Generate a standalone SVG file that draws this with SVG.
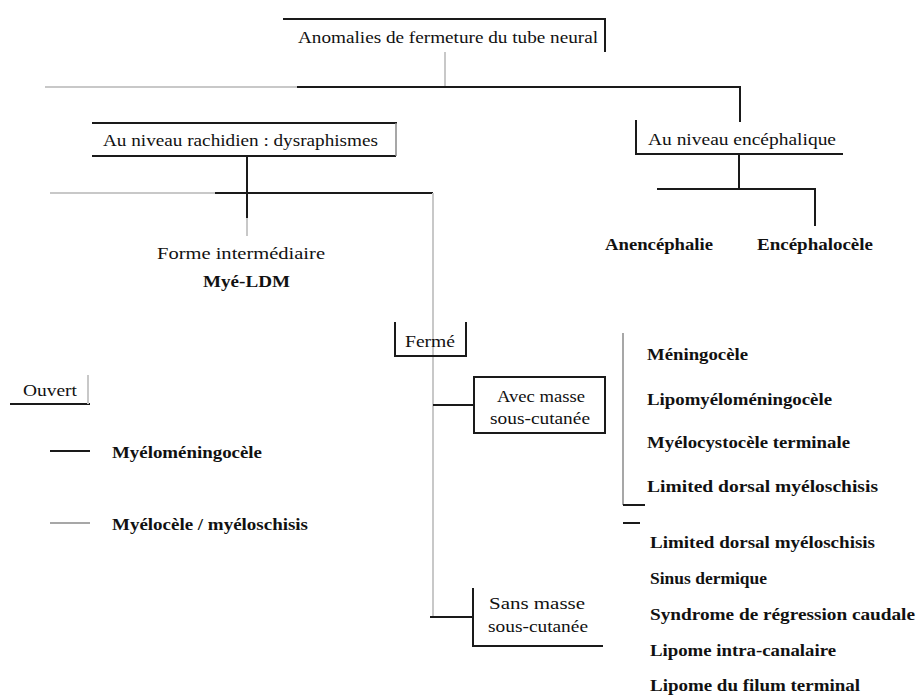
<svg xmlns="http://www.w3.org/2000/svg" width="918" height="699" viewBox="0 0 918 699">
  <style>
    text { font-family: "Liberation Serif", "Times New Roman", serif; fill: #111111; }
    .t { font-size: 16px; }
    .b { font-size: 16px; font-weight: bold; }
    .k { stroke: #1a1a1a; stroke-width: 2; fill: none; }
    .g { stroke: #c8c8c8; stroke-width: 2; fill: none; }
    .e { stroke: #8a8a8a; stroke-width: 1.5; fill: none; }
  </style>
  <rect width="918" height="699" fill="#ffffff"/>

  <!-- connectors -->
  <g id="connectors">
    <line class="g" x1="445" y1="52" x2="445" y2="87"/>
    <line class="g" x1="45" y1="87" x2="297" y2="87"/>
    <polyline class="k" points="297,87 740,87 740,122"/>
    <line class="k" x1="739" y1="154" x2="739" y2="189"/>
    <polyline class="k" points="657,189 815,189 815,226"/>
    <line class="k" x1="247" y1="156" x2="247" y2="218"/>
    <line class="g" x1="247" y1="218" x2="247" y2="236"/>
    <line class="g" x1="50" y1="193" x2="215" y2="193"/>
    <line class="k" x1="215" y1="193" x2="433" y2="193"/>
    <line class="g" x1="433" y1="193" x2="433" y2="617"/>
    <line class="k" x1="433" y1="405" x2="474" y2="405"/>
    <line class="k" x1="430" y1="617" x2="473" y2="617"/>
    <line class="e" x1="623" y1="333" x2="623" y2="505"/>
    <line class="k" x1="623" y1="505" x2="645" y2="505"/>
    <line class="k" x1="623" y1="523" x2="640" y2="523"/>
  </g>

  <!-- root -->
  <g id="root">
    <polyline class="k" points="283,19 605,19 605,52"/>
    <text class="t" x="298" y="43" textLength="300" lengthAdjust="spacingAndGlyphs">Anomalies de fermeture du tube neural</text>
  </g>

  <!-- spinal level -->
  <g id="rachidien">
    <line class="k" x1="92" y1="123" x2="397" y2="123"/>
    <line class="k" x1="92" y1="156" x2="396" y2="156"/>
    <line class="e" x1="396" y1="123" x2="396" y2="156"/>
    <text class="t" x="103" y="146" textLength="275" lengthAdjust="spacingAndGlyphs">Au niveau rachidien : dysraphismes</text>
  </g>

  <!-- cephalic level -->
  <g id="encephalique">
    <polyline class="k" points="636,120 636,154 843,154"/>
    <text class="t" x="648" y="145" textLength="188" lengthAdjust="spacingAndGlyphs">Au niveau encéphalique</text>
  </g>
  <g id="anencephalie">
    <text class="b" x="605" y="250" textLength="108" lengthAdjust="spacingAndGlyphs">Anencéphalie</text>
  </g>
  <g id="encephalocele">
    <text class="b" x="757" y="250" textLength="116" lengthAdjust="spacingAndGlyphs">Encéphalocèle</text>
  </g>

  <!-- intermediate form -->
  <g id="intermediaire">
    <text class="t" x="157" y="259" textLength="168" lengthAdjust="spacingAndGlyphs">Forme intermédiaire</text>
  </g>
  <g id="mye-ldm">
    <text class="b" x="203" y="287" textLength="87" lengthAdjust="spacingAndGlyphs">Myé-LDM</text>
  </g>

  <!-- closed -->
  <g id="ferme">
    <polyline class="k" points="395,322 395,356 466,356 466,322"/>
    <text class="t" x="405" y="347" textLength="50" lengthAdjust="spacingAndGlyphs">Fermé</text>
  </g>

  <!-- open, with legend -->
  <g id="ouvert">
    <line class="k" x1="10" y1="404" x2="90" y2="404"/>
    <line class="g" x1="88" y1="375" x2="88" y2="404"/>
    <text class="t" x="23" y="396" textLength="54" lengthAdjust="spacingAndGlyphs">Ouvert</text>
  </g>
  <g id="myelomeningocele">
    <line class="k" x1="50" y1="451" x2="90" y2="451"/>
    <text class="b" x="112" y="458" textLength="150" lengthAdjust="spacingAndGlyphs">Myéloméningocèle</text>
  </g>
  <g id="myelocele">
    <line class="e" x1="50" y1="523" x2="90" y2="523" stroke-width="2"/>
    <text class="b" x="112" y="530" textLength="196" lengthAdjust="spacingAndGlyphs">Myélocèle / myéloschisis</text>
  </g>

  <!-- with subcutaneous mass -->
  <g id="avec-masse">
    <rect class="k" x="474" y="377" width="131" height="56"/>
    <text class="t" x="497" y="402" textLength="88" lengthAdjust="spacingAndGlyphs">Avec masse</text>
    <text class="t" x="490" y="424" textLength="100" lengthAdjust="spacingAndGlyphs">sous-cutanée</text>
  </g>
  <g id="liste-avec">
    <text class="b" x="647" y="360" textLength="101" lengthAdjust="spacingAndGlyphs">Méningocèle</text>
    <text class="b" x="647" y="405" textLength="185" lengthAdjust="spacingAndGlyphs">Lipomyéloméningocèle</text>
    <text class="b" x="647" y="448" textLength="203" lengthAdjust="spacingAndGlyphs">Myélocystocèle terminale</text>
    <text class="b" x="647" y="492" textLength="231" lengthAdjust="spacingAndGlyphs">Limited dorsal myéloschisis</text>
  </g>

  <!-- without subcutaneous mass -->
  <g id="sans-masse">
    <polyline class="k" points="473,588 473,646 603,646"/>
    <text class="t" x="489" y="609" textLength="96" lengthAdjust="spacingAndGlyphs">Sans masse</text>
    <text class="t" x="488" y="632" textLength="100" lengthAdjust="spacingAndGlyphs">sous-cutanée</text>
  </g>
  <g id="liste-sans">
    <text class="b" x="650" y="548" textLength="225" lengthAdjust="spacingAndGlyphs">Limited dorsal myéloschisis</text>
    <text class="b" x="650" y="584" textLength="117" lengthAdjust="spacingAndGlyphs">Sinus dermique</text>
    <text class="b" x="650" y="620" textLength="265" lengthAdjust="spacingAndGlyphs">Syndrome de régression caudale</text>
    <text class="b" x="650" y="656" textLength="186" lengthAdjust="spacingAndGlyphs">Lipome intra-canalaire</text>
    <text class="b" x="650" y="691" textLength="210" lengthAdjust="spacingAndGlyphs">Lipome du filum terminal</text>
  </g>
</svg>
